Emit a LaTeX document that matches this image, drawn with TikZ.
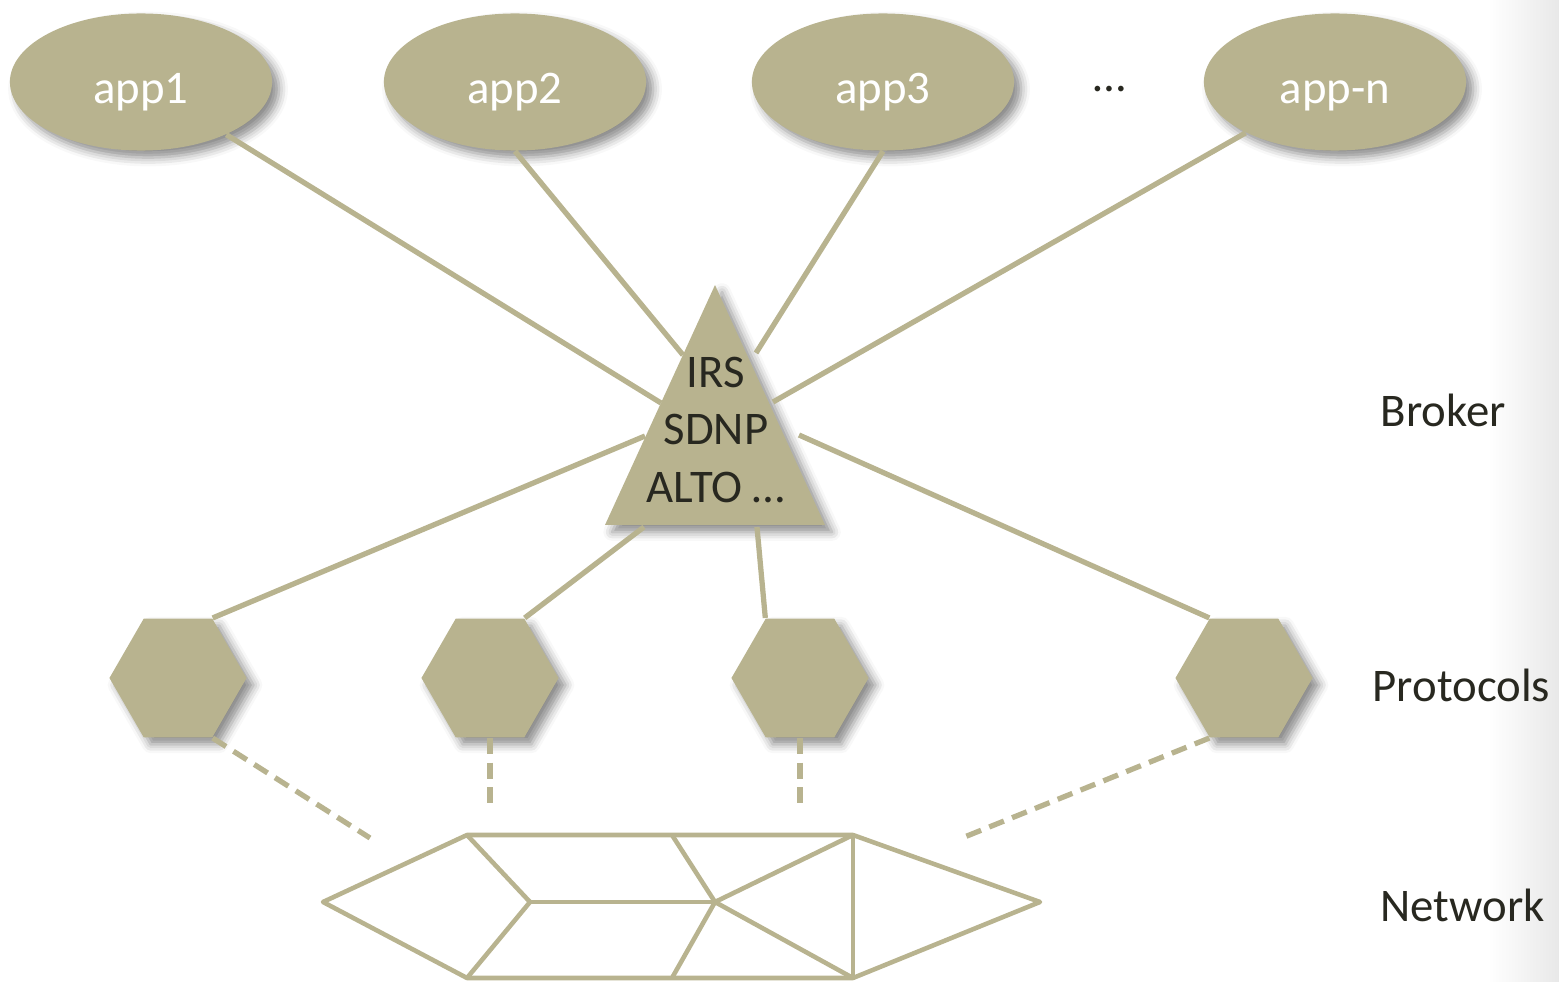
\documentclass[tikz,border=0pt]{standalone}
\usepackage{fontspec}
\setmainfont{Carlito}
\usetikzlibrary{shapes.geometric,shadows.blur}
\definecolor{khaki}{RGB}{184,179,143}
\definecolor{ink}{RGB}{40,40,32}

\begin{document}
\begin{tikzpicture}[x=0.01cm,y=-0.01cm,
    font=\fontsize{13.3}{16.3}\selectfont,
    soft/.style={blur shadow={shadow xshift=2pt,shadow yshift=-2pt,shadow blur radius=2.5pt,shadow opacity=45}},
    app/.style={ellipse,fill=khaki,soft,minimum width=2.62cm,minimum height=1.37cm,inner sep=0pt,text=white,text height=1.4em,text depth=0.2em},
    hexa/.style={regular polygon,regular polygon sides=6,fill=khaki,soft,minimum size=1.37cm,inner sep=0pt},
    link/.style={khaki,line width=1.5pt},
    dashlink/.style={link,dash pattern=on 4.5pt off 2.5pt},
    net/.style={khaki,line width=1.3pt,line join=round},
    layer/.style={text=ink,anchor=west,inner sep=0pt}]
        \useasboundingbox (0,0) rectangle (1559,982);
        % the grey fade at the right border
        \shade[left color=white,right color=black!9] (1488,0) rectangle (1559,982);

        % the broker triangle
        \fill[khaki,soft] (715,285) -- (825,525) -- (605,525) -- cycle;
        \node[text=ink,align=center,inner sep=0pt] (broker) at (716,430) {IRS\\SDNP\\ALTO …};
        \coordinate (b1) at (661,403);
        \coordinate (b2) at (683,355);
        \coordinate (b3) at (756,353);
        \coordinate (b4) at (773,402);
        \coordinate (b5) at (645,436);
        \coordinate (b6) at (644,527);
        \coordinate (b7) at (757,527);
        \coordinate (b8) at (799,435);

        % the applications
        \node[app] (app1) at (141,82) {app1};
        \node[app] (app2) at (515,82) {app2};
        \node[app] (app3) at (883,82) {app3};
        \node[app] (appn) at (1335,82) {app-n};
        \node[text=ink,anchor=base] (dots) at (1110,92) {…};

        % the protocols
        \node[hexa] (hex1) at (178,678) {};
        \node[hexa] (hex2) at (490,678) {};
        \node[hexa] (hex3) at (800,678) {};
        \node[hexa] (hex4) at (1244,678) {};

        % lines to the broker
        \draw[link] (app1) -- (b1);
        \draw[link] (app2.south) -- (b2);
        \draw[link] (app3.south) -- (b3);
        \draw[link] (appn) -- (b4);
        \draw[link] (b5) -- (hex1.60);
        \draw[link] (b6) -- (hex2.60);
        \draw[link] (b7) -- (hex3.120);
        \draw[link] (b8) -- (hex4.120);

        % the network
        \coordinate (n1) at (323,902);
        \coordinate (n2) at (467,835);
        \coordinate (n3) at (672,835);
        \coordinate (n4) at (853,835);
        \coordinate (n5) at (1040,902);
        \coordinate (n6) at (853,978);
        \coordinate (n7) at (672,978);
        \coordinate (n8) at (467,978);
        \coordinate (n9) at (530,902);
        \coordinate (n10) at (715,902);
        \draw[net] (n1) -- (n2) -- (n3) -- (n4) -- (n5) -- (n6) -- (n7) -- (n8) -- cycle;
        \foreach \a/\b in {2/9,8/9,9/10,3/10,7/10,4/10,6/10,4/6}
          \draw[net] (n\a) -- (n\b);

        % dashed lines down to the network
        \coordinate (d1) at (370,838);
        \coordinate (d2) at (hex2.south |- 0,806);
        \coordinate (d3) at (hex3.south |- 0,806);
        \coordinate (d4) at (962,838);
        \draw[dashlink] (hex1.-60) -- (d1);
        \draw[dashlink] (hex2.south) -- (d2);
        \draw[dashlink] (hex3.south) -- (d3);
        \draw[dashlink] (hex4.-120) -- (d4);

        % layer labels
        \node[layer] (lbroker) at (1380,410) {Broker};
        \node[layer] (lproto) at (1372,685) {Protocols};
        \node[layer] (lnet) at (1380,905) {Network};
\end{tikzpicture}
\end{document}
